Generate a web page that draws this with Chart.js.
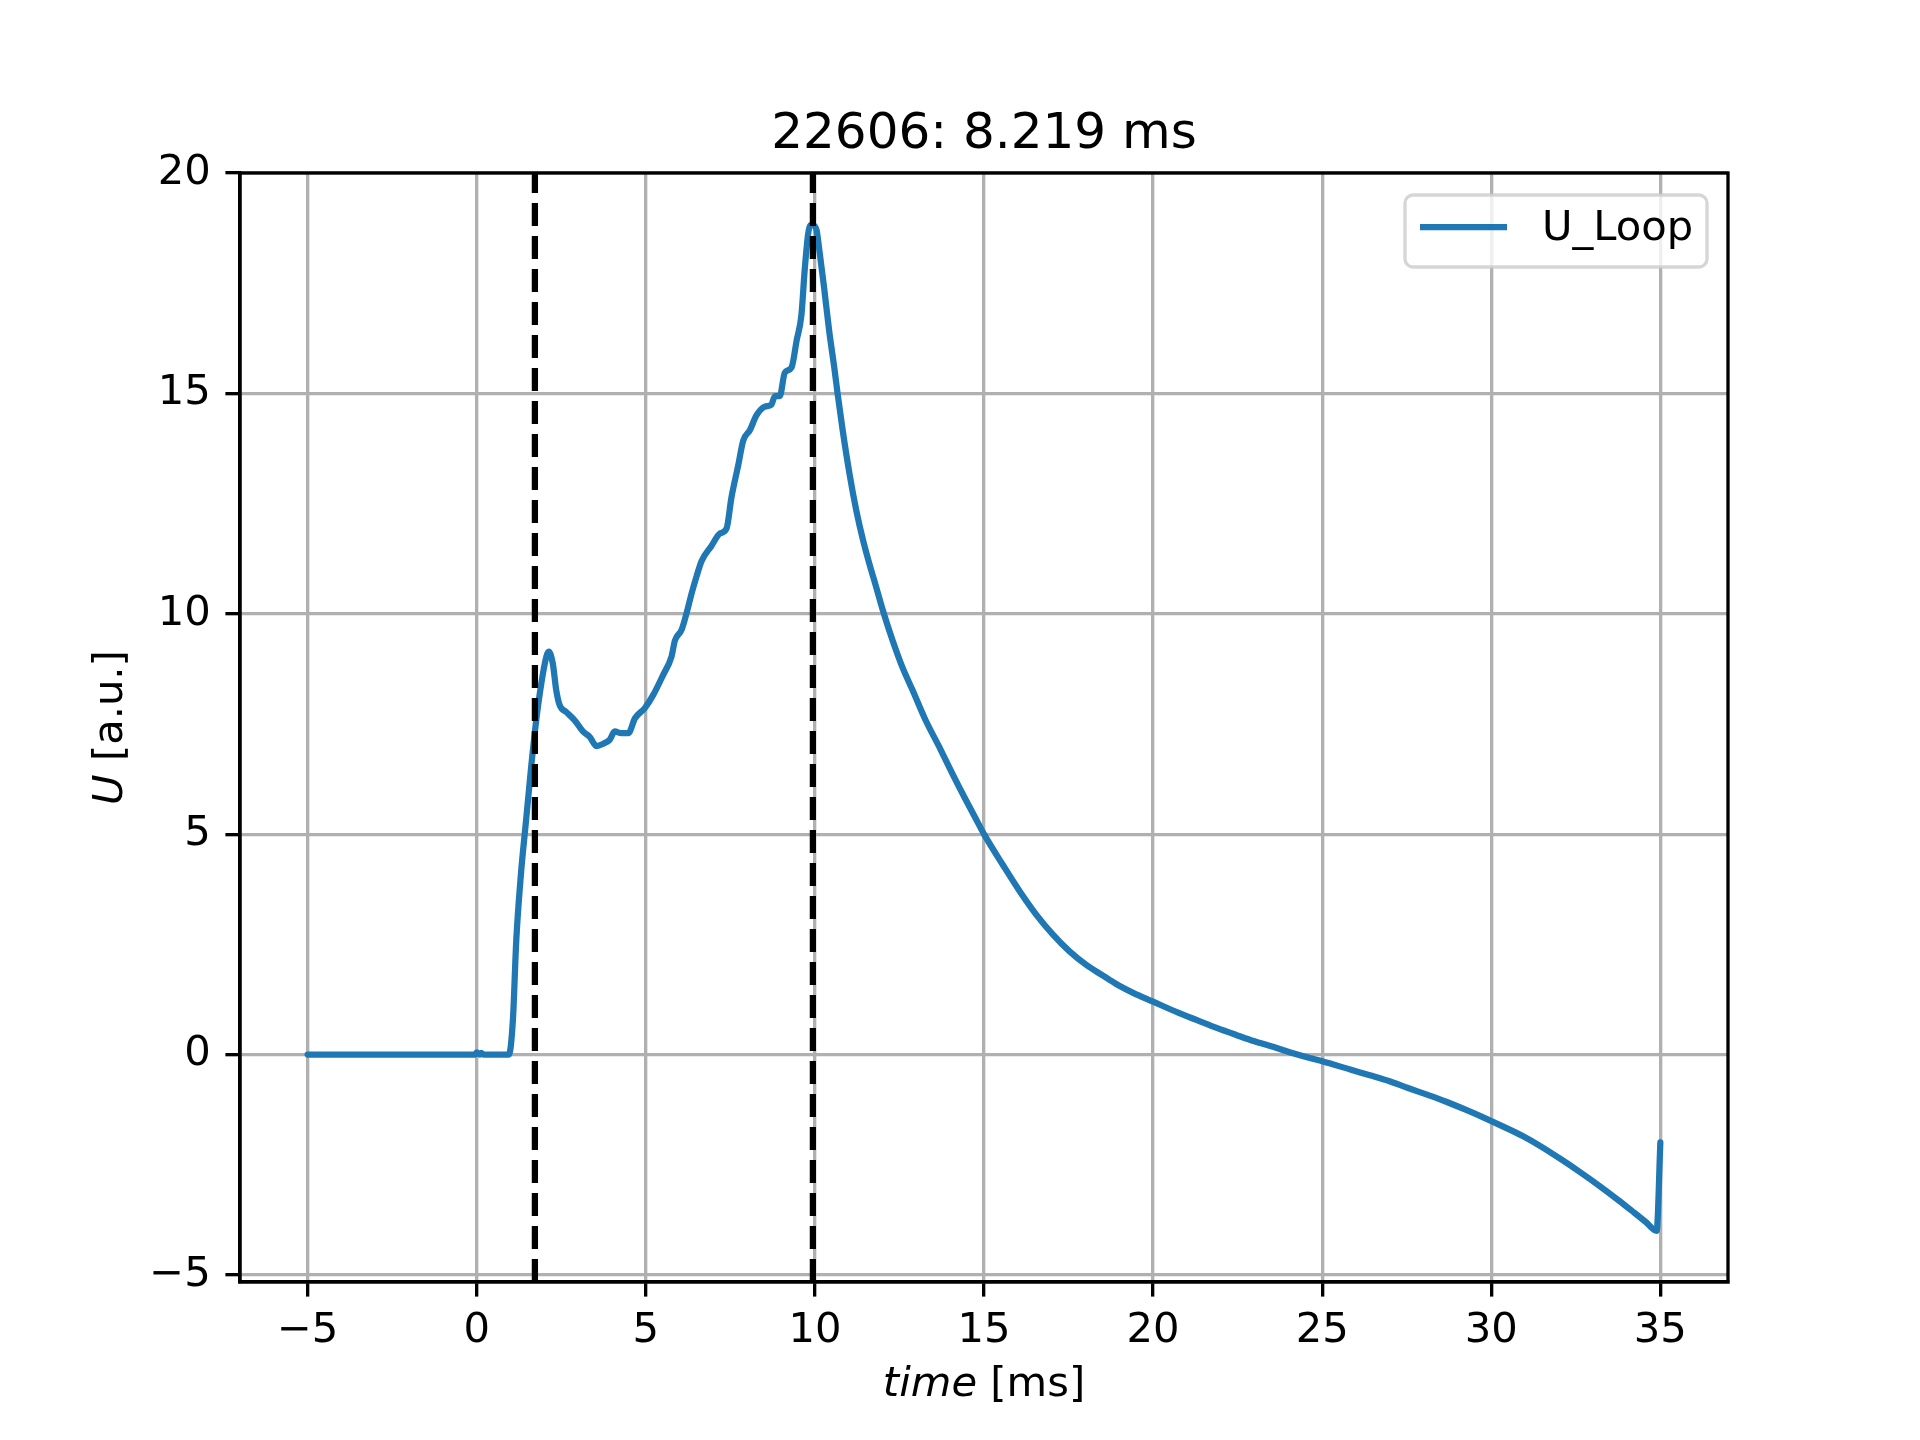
<!DOCTYPE html>
<html lang="en">
<head>
    <meta charset="UTF-8">
    <title>22606 U_Loop</title>
    <script src="https://cdn.jsdelivr.net/npm/chart.js@4.4.1/dist/chart.umd.min.js"></script>
    <style>
        body { margin: 0; background: #fff; }
        #wrap { width: 1920px; height: 1440px; }
    </style>
</head>
<body>
<div id="wrap">
    <canvas id="loopChart" width="1920" height="1440"></canvas>
</div>
<script>
    // values
    var timeMs = [-5, -0.05, 0, 0.1, 0.13, 0.2, 0.95, 1.07, 1.17, 1.31, 1.46, 1.61, 1.76, 1.91, 2.06, 2.13,
        2.25, 2.35, 2.45, 2.65, 2.9, 3.14, 3.34, 3.54, 3.74, 3.93, 4.08, 4.28, 4.48, 4.68, 4.97, 5.22,
        5.51, 5.76, 5.86, 6.06, 6.2, 6.35, 6.5, 6.65, 6.94, 7.19, 7.39, 7.53, 7.73, 7.88, 8.08, 8.27,
        8.52, 8.71, 8.82, 8.96, 9.11, 9.31, 9.46, 9.6, 9.7, 9.8, 9.88, 9.94, 10.05, 10.12, 10.27, 10.42,
        10.57, 10.67, 10.82, 11.02, 11.22, 11.42, 11.66, 11.75, 12.04, 12.29, 12.58, 12.88, 13.27, 13.67,
        14.06, 14.46, 14.75, 15.0, 15.56, 16.06, 16.55, 17.04, 17.53, 18.03, 18.52, 18.72, 19.0, 19.41, 20,
        20.74, 21.3, 21.9, 22.44, 23.0, 23.57, 24.14, 24.69, 25, 25.83, 26.41, 26.97, 27.54, 28.1,
        28.67, 29.24, 29.81, 30.37, 30.93, 31.5, 32.07, 32.63, 33.2, 33.77, 34.23, 34.57, 34.89, 35.0];
    var uLoop = [0, 0, 0.05, 0, 0.04, 0, 0, 0.79, 2.6, 4.12, 5.32, 6.53, 7.59, 8.42, 9.03, 9.14,
        8.87, 8.27, 7.93, 7.77, 7.58, 7.33, 7.21, 7.0, 7.05, 7.14, 7.33, 7.29, 7.29, 7.63, 7.86, 8.16,
        8.61, 9.03, 9.39, 9.64, 10.0, 10.45, 10.85, 11.2, 11.54, 11.82, 11.94, 12.63, 13.36, 13.93, 14.17, 14.5,
        14.7, 14.74, 14.94, 14.94, 15.47, 15.59, 16.2, 16.77, 17.82, 18.62, 18.82, 18.82, 18.7, 18.32, 17.41, 16.43,
        15.6, 15.0, 14.17, 13.19, 12.36, 11.68, 11.0, 10.77, 10.0, 9.41, 8.8, 8.28, 7.59, 6.99,
        6.38, 5.78, 5.36, 5.0, 4.3, 3.7, 3.17, 2.72, 2.34, 2.03, 1.79, 1.69, 1.56, 1.4, 1.2,
        0.95, 0.78, 0.6, 0.45, 0.3, 0.17, 0.03, -0.09, -0.15, -0.34, -0.47, -0.6, -0.76, -0.91,
        -1.07, -1.25, -1.44, -1.64, -1.85, -2.1, -2.38, -2.67, -2.98, -3.31, -3.59, -3.8, -4.0, -1.99];
    var markerTimes = [1.72, 9.94];
    var xTicks = [-5, 0, 5, 10, 15, 20, 25, 30, 35];
    var yTicks = [-5, 0, 5, 10, 15, 20];
    var xRange = [-7, 37];
    var yRange = [-5.16, 20];
    var chartTitle = '22606: 8.219 ms';
    var seriesLabel = 'U_Loop';

    var FONT = '"DejaVu Sans", sans-serif';
    var LW = 3.33;

    var loopData = [];
    for (var i = 0; i < timeMs.length; i++) {
        loopData.push({x: timeMs[i], y: uLoop[i]});
    }

    var datasets = [{
        label: seriesLabel,
        data: loopData,
        borderColor: '#1f77b4',
        borderWidth: 6.25,
        pointRadius: 0,
        cubicInterpolationMode: 'monotone',
        borderJoinStyle: 'round',
        borderCapStyle: 'round',
        order: 1
    }];
    markerTimes.forEach(function (t) {
        datasets.push({
            label: 'marker',
            data: [{x: t, y: yRange[0]}, {x: t, y: yRange[1]}],
            borderColor: '#000',
            borderWidth: 6.25,
            borderDash: [23, 10],
            pointRadius: 0,
            order: 0
        });
    });

    function minusSign(v) {
        return String(v).replace('-', '\u2212');
    }

    // title, axis labels, frame and legend drawn like matplotlib
    var decorations = {
        id: 'decorations',
        afterDraw: function (chart) {
            var ctx = chart.ctx;
            var a = chart.chartArea;
            ctx.save();
            ctx.fillStyle = '#000';

            ctx.font = '50px ' + FONT;
            ctx.textAlign = 'center';
            ctx.textBaseline = 'alphabetic';
            ctx.fillText(chartTitle, (a.left + a.right) / 2, a.top - 25);

            // x label: "time [ms]"
            ctx.font = 'italic 41.7px ' + FONT;
            var p1 = 'time';
            var w1 = ctx.measureText(p1).width;
            ctx.font = '41.7px ' + FONT;
            var p2 = ' [ms]';
            var w2 = ctx.measureText(p2).width;
            var x0 = (a.left + a.right) / 2 - (w1 + w2) / 2;
            ctx.textAlign = 'left';
            ctx.font = 'italic 41.7px ' + FONT;
            ctx.fillText(p1, x0, 1396);
            ctx.font = '41.7px ' + FONT;
            ctx.fillText(p2, x0 + w1, 1396);

            // y label: "U [a.u.]"
            ctx.save();
            ctx.translate(122, (a.top + a.bottom) / 2);
            ctx.rotate(-Math.PI / 2);
            ctx.font = 'italic 41.7px ' + FONT;
            var q1 = 'U';
            var v1 = ctx.measureText(q1).width;
            ctx.font = '41.7px ' + FONT;
            var q2 = ' [a.u.]';
            var v2 = ctx.measureText(q2).width;
            ctx.font = 'italic 41.7px ' + FONT;
            ctx.fillText(q1, -(v1 + v2) / 2, 0);
            ctx.font = '41.7px ' + FONT;
            ctx.fillText(q2, -(v1 + v2) / 2 + v1, 0);
            ctx.restore();

            // frame
            ctx.strokeStyle = '#000';
            ctx.lineWidth = LW;
            ctx.strokeRect(a.left, a.top, a.right - a.left, a.bottom - a.top);

            // legend
            var lx = 1405, ly = 195, lw = 302, lh = 72, r = 8;
            ctx.beginPath();
            ctx.moveTo(lx + r, ly);
            ctx.arcTo(lx + lw, ly, lx + lw, ly + lh, r);
            ctx.arcTo(lx + lw, ly + lh, lx, ly + lh, r);
            ctx.arcTo(lx, ly + lh, lx, ly, r);
            ctx.arcTo(lx, ly, lx + lw, ly, r);
            ctx.closePath();
            ctx.fillStyle = 'rgba(255,255,255,0.8)';
            ctx.fill();
            ctx.strokeStyle = 'rgba(204,204,204,0.8)';
            ctx.lineWidth = LW;
            ctx.stroke();
            ctx.beginPath();
            ctx.moveTo(1420, 227);
            ctx.lineTo(1507, 227);
            ctx.strokeStyle = '#1f77b4';
            ctx.lineWidth = 6.25;
            ctx.stroke();
            ctx.fillStyle = '#000';
            ctx.font = '41.7px ' + FONT;
            ctx.textAlign = 'left';
            ctx.textBaseline = 'middle';
            ctx.fillText(seriesLabel, 1542, 229);
            ctx.restore();
        }
    };

    var ctx = document.getElementById('loopChart');
    var chart = new Chart(ctx, {
        type: 'line',
        data: {datasets: datasets},
        options: {
            responsive: false,
            animation: false,
            devicePixelRatio: 1,
            layout: {padding: {left: 0, right: 192, top: 173, bottom: 0}},
            plugins: {
                legend: {display: false},
                tooltip: {enabled: false},
                title: {display: false}
            },
            scales: {
                x: {
                    type: 'linear',
                    min: xRange[0],
                    max: xRange[1],
                    afterBuildTicks: function (scale) {
                        scale.ticks = xTicks.map(function (v) { return {value: v}; });
                    },
                    afterFit: function (scale) { scale.height = 158; },
                    ticks: {
                        color: '#000',
                        font: {family: FONT, size: 41.7},
                        padding: 10,
                        maxRotation: 0,
                        autoSkip: false,
                        callback: function (v) { return minusSign(v); }
                    },
                    grid: {
                        color: '#b0b0b0',
                        lineWidth: LW,
                        drawTicks: true,
                        tickLength: 14.6,
                        tickColor: '#000',
                        tickWidth: LW
                    },
                    border: {display: true, color: '#000', width: LW}
                },
                y: {
                    type: 'linear',
                    min: yRange[0],
                    max: yRange[1],
                    afterBuildTicks: function (scale) {
                        scale.ticks = yTicks.map(function (v) { return {value: v}; });
                    },
                    afterFit: function (scale) { scale.width = 240; },
                    ticks: {
                        color: '#000',
                        font: {family: FONT, size: 41.7},
                        padding: 14.6,
                        autoSkip: false,
                        callback: function (v) { return minusSign(v); }
                    },
                    grid: {
                        color: '#b0b0b0',
                        lineWidth: LW,
                        drawTicks: true,
                        tickLength: 14.6,
                        tickColor: '#000',
                        tickWidth: LW
                    },
                    border: {display: true, color: '#000', width: LW}
                }
            }
        },
        plugins: [decorations]
    });
</script>
</body>
</html>
